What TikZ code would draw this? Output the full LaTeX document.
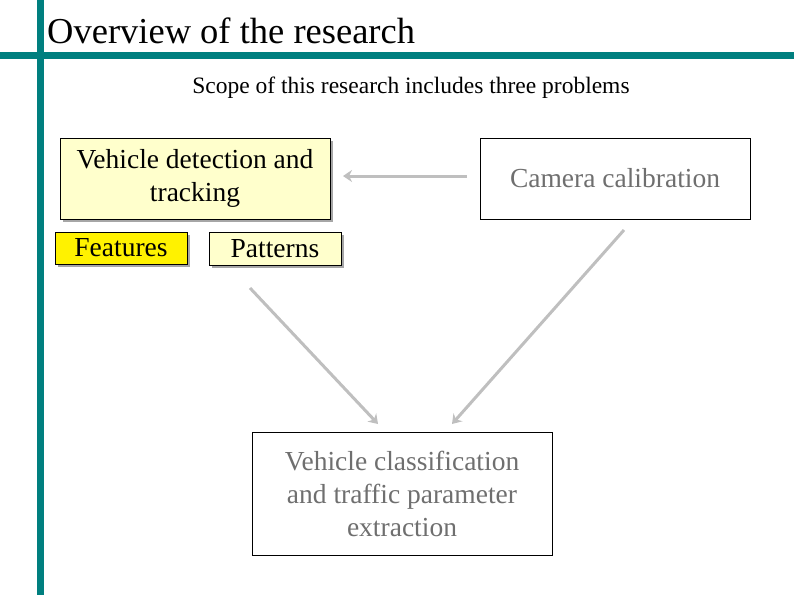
\documentclass[tikz,border=0pt]{standalone}
\usepackage{fontspec}
\setmainfont{Liberation Serif}
\usetikzlibrary{arrows.meta}
\definecolor{teal1}{HTML}{007F7F}
\definecolor{lyel}{HTML}{FFFFCC}
\definecolor{garr}{HTML}{BFBFBF}
\definecolor{gtxt}{HTML}{6F6F6F}
\begin{document}
\begin{tikzpicture}[x=1pt,y=-1pt,
  box/.style={draw=black,line width=0.6pt,inner sep=0pt,align=center,font=\fontsize{27.5}{33}\selectfont},
  shad/.style={preaction={fill=gray!70,transform canvas={shift={(2.5pt,-2.5pt)}}}},
  arr/.style={draw=garr,line width=3pt,-{Stealth[length=9pt,width=12pt]}}]
\useasboundingbox (0,0) rectangle (794,595);
\fill[teal1] (37,0) rectangle (44,595);
\fill[teal1] (0,52) rectangle (794,59);
\node[anchor=west,font=\fontsize{36.5}{40}\selectfont,inner sep=0pt] (title) at (47,31) {Overview of the research};
\node[font=\fontsize{23.5}{27}\selectfont] (scope) at (411,88) {Scope of this research includes three problems};
\node[box,fill=lyel,shad,minimum width=270,minimum height=81] (vdt) at (195,178.5) {Vehicle detection and\\tracking};
\node[box,fill=yellow,shad,minimum width=132,minimum height=32] (feat) at (121,248) {Features};
\node[box,fill=lyel,shad,minimum width=132,minimum height=33] (pat) at (275,248.5) {Patterns};
\node[box,fill=white,minimum width=270,minimum height=81,text=gtxt] (cam) at (615,178.5) {Camera calibration};
\node[box,fill=white,minimum width=300,minimum height=123,text=gtxt] (cls) at (402,493.5) {Vehicle classification\\and traffic parameter\\extraction};
\coordinate (a1) at (467,176); \coordinate (a2) at (343,176);
\coordinate (b1) at (250,288); \coordinate (b2) at (378,424);
\coordinate (c1) at (624,230); \coordinate (c2) at (452,424);
\draw[arr] (a1) -- (a2);
\draw[arr] (b1) -- (b2);
\draw[arr] (c1) -- (c2);
\end{tikzpicture}
\end{document}
